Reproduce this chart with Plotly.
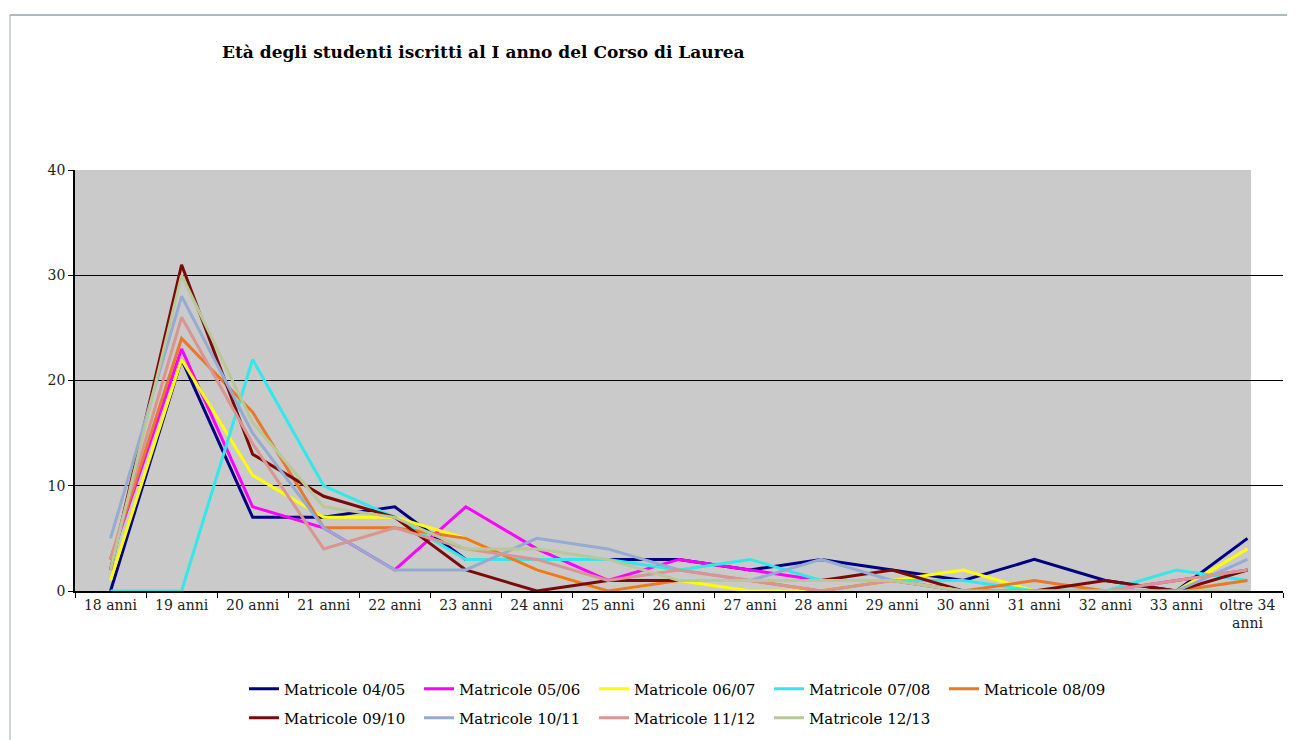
import plotly.graph_objects as go

categories = ["18 anni", "19 anni", "20 anni", "21 anni", "22 anni", "23 anni", "24 anni",
              "25 anni", "26 anni", "27 anni", "28 anni", "29 anni", "30 anni", "31 anni",
              "32 anni", "33 anni", "oltre 34<br>anni"]

m_04_05 = [0, 22, 7, 7, 8, 3, 3, 3, 3, 2, 3, 2, 1, 3, 1, 0, 5]
m_05_06 = [3, 23, 8, 6, 2, 8, 4, 1, 3, 2, 1, 1, 0, 0, 0, 1, 2]
m_06_07 = [1, 22, 11, 7, 7, 5, 2, 0, 1, 0, 0, 1, 2, 0, 0, 0, 4]
m_07_08 = [0, 0, 22, 10, 7, 3, 3, 3, 2, 3, 1, 1, 1, 0, 0, 2, 1]
m_08_09 = [3, 24, 17, 6, 6, 5, 2, 0, 1, 1, 0, 1, 0, 1, 0, 0, 1]
m_09_10 = [2, 31, 13, 9, 7, 2, 0, 1, 1, 1, 1, 2, 0, 0, 1, 0, 2]
m_10_11 = [5, 28, 15, 6, 2, 2, 5, 4, 2, 1, 3, 1, 0, 0, 0, 0, 3]
m_11_12 = [3, 26, 14, 4, 6, 4, 3, 1, 2, 1, 0, 1, 0, 0, 0, 1, 2]
m_12_13 = [2, 30, 16, 8, 7, 4, 4, 3, 1, 1, 1, 1, 0, 0, 0, 0, 0]

series_names = ["Matricole 04/05", "Matricole 05/06", "Matricole 06/07", "Matricole 07/08",
                "Matricole 08/09", "Matricole 09/10", "Matricole 10/11", "Matricole 11/12",
                "Matricole 12/13"]
series_values = [m_04_05, m_05_06, m_06_07, m_07_08, m_08_09, m_09_10, m_10_11, m_11_12, m_12_13]
colors = ["#000080", "#FF00FF", "#FFFF00", "#33E8E8", "#E8782A",
          "#7A0A0A", "#95ABD0", "#D9958F", "#B8C898"]

SERIF = "DejaVu Serif, serif"

fig = go.Figure()
for i, (name, vals, col) in enumerate(zip(series_names, series_values, colors)):
    fig.add_trace(go.Scatter(
        x=categories, y=vals, mode="lines", name=name,
        line=dict(color=col, width=3),
        legend="legend" if i < 5 else "legend2",
    ))

# page has an 8px body margin, so the figure is 8px smaller than the window
OFF = 8
W, H = 1295 - OFF, 740 - OFF
L, T = 75 - OFF, 170 - OFF
R = W - (1283 - OFF)
B = H - (591 - OFF)
pw, ph = W - L - R, H - T - B

def px_x(px):
    return (px - OFF - L) / pw

def px_y(py):
    return (H - B - (py - OFF)) / ph

leg_common = dict(orientation="h", xanchor="left", yanchor="middle",
                  font=dict(family=SERIF, size=15, color="black"),
                  entrywidth=130, entrywidthmode="pixels", bgcolor="rgba(0,0,0,0)",
                  itemwidth=30, tracegroupgap=0)

fig.update_layout(
    width=W, height=H,
    margin=dict(l=L, r=R, t=T, b=B, autoexpand=False),
    paper_bgcolor="white",
    plot_bgcolor="#CACACA",
    font=dict(family=SERIF, size=14, color="black"),
    title=dict(text="<b>Età degli studenti iscritti al I anno del Corso di Laurea</b>",
               x=px_x(222), xref="paper", xanchor="left",
               y=1 - (52 - OFF) / H, yanchor="middle",
               font=dict(family=SERIF, size=17, color="black")),
    showlegend=True,
    legend=dict(x=px_x(244), y=px_y(689), **leg_common),
    legend2=dict(x=px_x(244), y=px_y(718), **leg_common),
    xaxis=dict(type="category", tickson="boundaries", ticks="outside", ticklen=5,
               tickcolor="black", showline=True, linecolor="black", linewidth=1.5,
               showgrid=False, range=[-0.5, 16.5], automargin=False,
               tickfont=dict(family=SERIF, size=14, color="#222")),
    yaxis=dict(range=[0, 40], dtick=10, ticks="outside", ticklen=5, tickcolor="black",
               showline=True, linecolor="black", linewidth=1.5, automargin=False,
               showgrid=True, gridcolor="black", gridwidth=1, zeroline=False,
               tickfont=dict(family=SERIF, size=14, color="#222")),
    shapes=[
        dict(type="rect", xref="x", yref="paper", x0=16.05, x1=16.6, y0=0, y1=1,
             fillcolor="white", line=dict(width=0), layer="below"),
        dict(type="line", xref="paper", yref="paper", x0=px_x(10), x1=px_x(1295),
             y0=px_y(15), y1=px_y(15), line=dict(color="#8CA3AE", width=1.5)),
        dict(type="line", xref="paper", yref="paper", x0=px_x(10), x1=px_x(10),
             y0=px_y(15), y1=px_y(740), line=dict(color="#9AAAB2", width=1)),
    ],
)

fig.write_html("out.html")
